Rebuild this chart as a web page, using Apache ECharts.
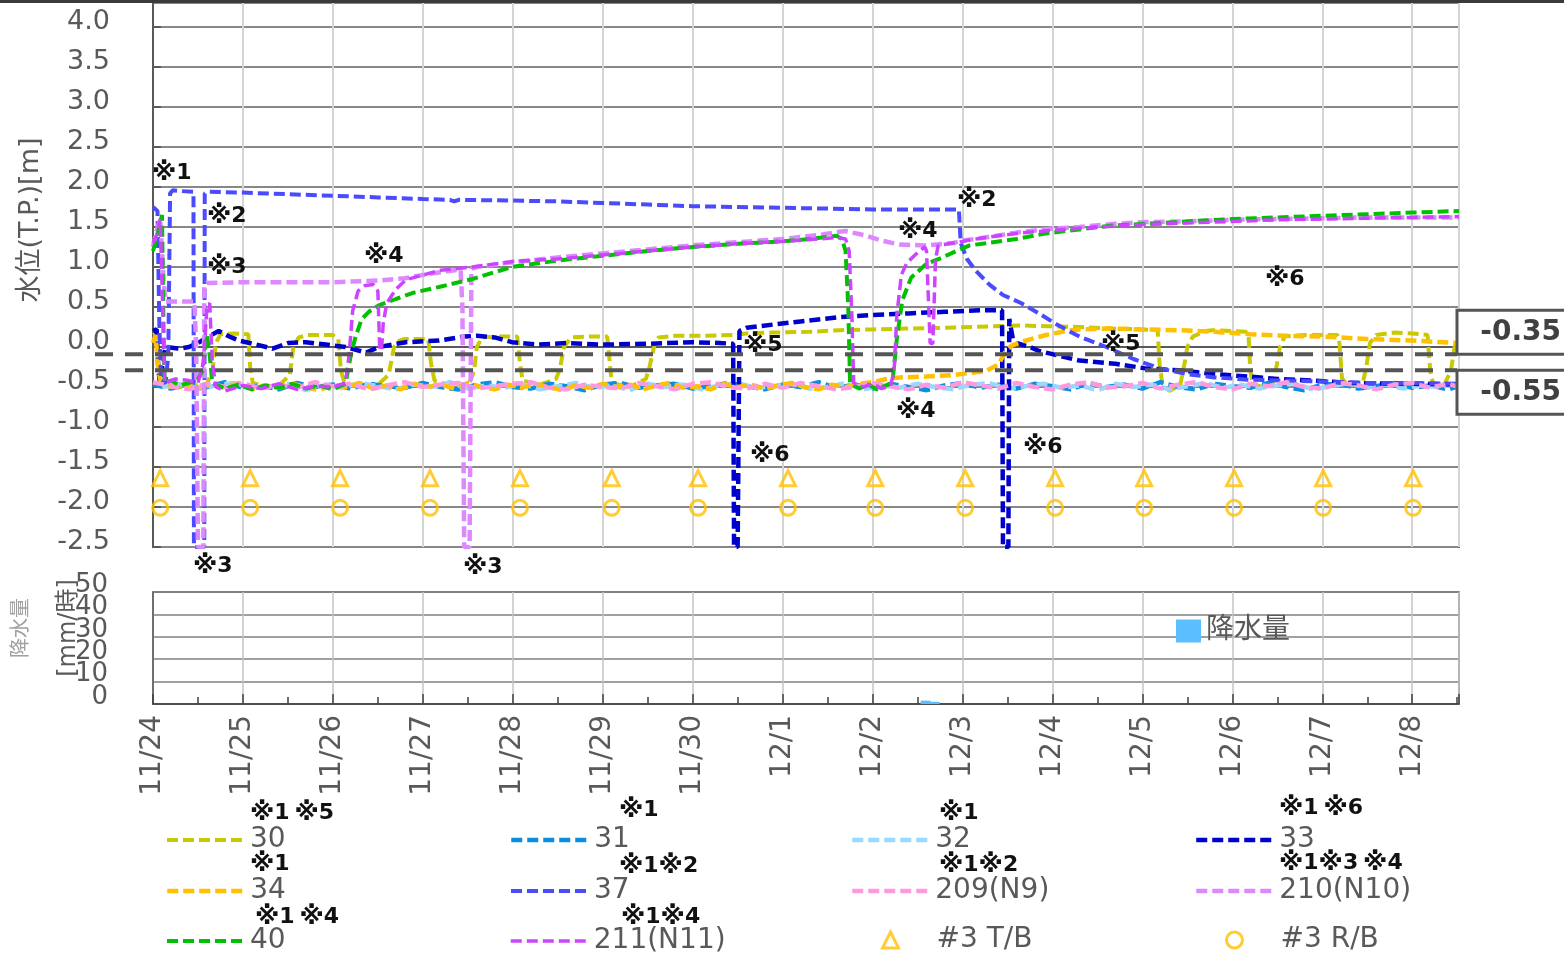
<!DOCTYPE html>
<html>
<head>
<meta charset="utf-8">
<script src="https://cdn.jsdelivr.net/npm/echarts@6/dist/echarts.min.js"></script>
<style>
html,body{margin:0;padding:0;background:#fff;}
#chart{width:1564px;height:954px;}
</style>
</head>
<body>
<div id="chart"></div>
<script>
// ---- time axis: days elapsed since 11/24 00:00 ----
const DAY_LABELS = ['11/24','11/25','11/26','11/27','11/28','11/29','11/30','12/1','12/2','12/3','12/4','12/5','12/6','12/7','12/8'];
const X_MAX = 14.52;

// ---- water level series, [day, level T.P. m] ----
const S30 = [[0,0.15],[0.04,0.17],[0.07,-0.42],[0.15,-0.47],[0.3,-0.5],[0.45,-0.48],[0.6,-0.46],[0.66,-0.3],[0.7,0.05],[0.75,0.16],[0.9,0.17],[1.06,0.16],[1.08,-0.25],[1.11,-0.45],[1.25,-0.5],[1.4,-0.48],[1.52,-0.35],[1.56,0.0],[1.62,0.12],[1.72,0.15],[2.0,0.15],[2.06,0.1],[2.09,-0.3],[2.13,-0.45],[2.3,-0.5],[2.5,-0.47],[2.62,-0.35],[2.68,0.0],[2.74,0.08],[2.8,0.1],[3.06,0.1],[3.09,-0.2],[3.13,-0.42],[3.3,-0.48],[3.5,-0.5],[3.57,-0.3],[3.6,0.0],[3.66,0.12],[3.8,0.13],[4.05,0.13],[4.08,-0.2],[4.11,-0.42],[4.3,-0.47],[4.48,-0.4],[4.52,-0.29],[4.57,0.0],[4.65,0.12],[4.8,0.13],[5.05,0.13],[5.07,-0.1],[5.1,-0.45],[5.3,-0.5],[5.48,-0.4],[5.52,-0.25],[5.57,0.0],[5.62,0.12],[5.8,0.14],[6.1,0.14],[6.45,0.15],[6.6,0.17],[6.89,0.18],[7.3,0.19],[7.63,0.21],[8.0,0.22],[8.37,0.23],[8.8,0.24],[9.11,0.25],[9.63,0.27],[9.93,0.26],[10.3,0.25],[10.67,0.23],[11.0,0.22],[11.17,0.21],[11.19,-0.2],[11.22,-0.45],[11.3,-0.55],[11.42,-0.48],[11.47,-0.2],[11.5,0.0],[11.56,0.13],[11.7,0.2],[11.78,0.21],[12.15,0.19],[12.18,0.15],[12.2,-0.3],[12.23,-0.47],[12.35,-0.5],[12.45,-0.45],[12.49,-0.25],[12.53,0.0],[12.58,0.13],[12.8,0.15],[13.17,0.15],[13.19,0.05],[13.22,-0.4],[13.3,-0.48],[13.45,-0.45],[13.49,-0.25],[13.53,0.05],[13.6,0.15],[13.8,0.18],[14.0,0.17],[14.17,0.15],[14.2,-0.3],[14.23,-0.45],[14.35,-0.48],[14.43,-0.3],[14.47,0.0],[14.52,0.08]];

const BAND_T_A = [0,0.2,0.4,0.6,0.8,1.0,1.2,1.4,1.6,1.8,
  2.0,2.2,2.4,2.6,2.8,3.0,3.2,3.4,3.6,3.8,
  4.0,4.2,4.4,4.6,4.8,5.0,5.2,5.4,5.6,5.8,
  6.0,6.2,6.4,6.6,6.8,7.0,7.2,7.4,7.6,7.8,
  8.0,8.2,8.4,8.6,8.8,9.0,9.2,9.4,9.6,9.8,
  10.0,10.2,10.4,10.6,10.8,11.0,11.2,11.4,11.6,11.8,
  12.0,12.2,12.4,12.6,12.8,13.0,13.2,13.4,13.6,13.8,
  14.0,14.2,14.4,14.52];
const BAND_T_B = [0.1,0.3,0.5,0.7,0.9,1.1,1.3,1.5,1.7,1.9,
  2.1,2.3,2.5,2.7,2.9,3.1,3.3,3.5,3.7,3.9,
  4.1,4.3,4.5,4.7,4.9,5.1,5.3,5.5,5.7,5.9,
  6.1,6.3,6.5,6.7,6.9,7.1,7.3,7.5,7.7,7.9,
  8.1,8.3,8.5,8.7,8.9,9.1,9.3,9.5,9.7,9.9,
  10.1,10.3,10.5,10.7,10.9,11.1,11.3,11.5,11.7,11.9,
  12.1,12.3,12.5,12.7,12.9,13.1,13.3,13.5,13.7,13.9,
  14.1,14.3,14.5];

const S31_V = [-0.47,-0.52,-0.46,-0.50,-0.44,-0.51,-0.48,-0.53,-0.45,-0.50,
  -0.47,-0.52,-0.46,-0.49,-0.51,-0.45,-0.50,-0.53,-0.47,-0.44,
  -0.50,-0.52,-0.46,-0.49,-0.54,-0.47,-0.45,-0.51,-0.48,-0.46,
  -0.52,-0.49,-0.45,-0.49,-0.53,-0.47,-0.50,-0.44,-0.51,-0.47,
  -0.52,-0.46,-0.50,-0.54,-0.48,-0.45,-0.51,-0.47,-0.52,-0.46,
  -0.49,-0.53,-0.45,-0.50,-0.47,-0.52,-0.44,-0.50,-0.53,-0.46,
  -0.49,-0.51,-0.45,-0.50,-0.54,-0.47,-0.46,-0.52,-0.49,-0.45,
  -0.51,-0.48,-0.53,-0.49];
const S32_V = [-0.50,-0.46,-0.53,-0.48,-0.45,-0.52,-0.49,-0.46,-0.54,-0.48,
  -0.51,-0.45,-0.49,-0.53,-0.47,-0.50,-0.44,-0.52,-0.48,-0.51,
  -0.46,-0.53,-0.49,-0.45,-0.51,-0.48,-0.54,-0.46,-0.50,-0.47,
  -0.53,-0.48,-0.45,-0.51,-0.49,-0.46,-0.52,-0.50,-0.45,-0.53,
  -0.48,-0.51,-0.46,-0.50,-0.53,-0.47,-0.45,-0.52,-0.49,-0.46,
  -0.51,-0.48,-0.54,-0.46,-0.50,-0.47,-0.53,-0.49,-0.45,-0.51,
  -0.47,-0.52,-0.48,-0.46,-0.53,-0.49,-0.45,-0.51,-0.47,-0.52,
  -0.48,-0.50,-0.46];
const S209_V = [-0.44,-0.49,-0.53,-0.46,-0.50,-0.45,-0.52,-0.47,-0.51,-0.44,
  -0.49,-0.46,-0.53,-0.48,-0.44,-0.50,-0.47,-0.45,-0.52,-0.49,
  -0.46,-0.44,-0.51,-0.53,-0.47,-0.50,-0.52,-0.45,-0.49,-0.53,
  -0.46,-0.44,-0.50,-0.52,-0.46,-0.51,-0.45,-0.49,-0.53,-0.50,
  -0.45,-0.49,-0.53,-0.47,-0.51,-0.44,-0.48,-0.52,-0.45,-0.50,
  -0.53,-0.47,-0.44,-0.51,-0.49,-0.45,-0.52,-0.47,-0.44,-0.50,
  -0.53,-0.46,-0.49,-0.44,-0.50,-0.52,-0.45,-0.48,-0.53,-0.47,
  -0.45,-0.51,-0.46,-0.50];

const S33 = [[0,0.2],[0.04,0.22],[0.06,-0.3],[0.08,-0.45],[0.12,-0.1],[0.14,0.0],[0.3,-0.02],[0.4,0.0],[0.5,0.05],[0.6,0.12],[0.73,0.2],[0.85,0.13],[0.96,0.08],[1.15,0.03],[1.33,-0.02],[1.5,0.05],[1.7,0.06],[1.92,0.03],[2.14,0.0],[2.37,-0.07],[2.51,0.0],[2.81,0.06],[3.18,0.08],[3.45,0.13],[3.6,0.14],[3.8,0.12],[3.99,0.06],[4.29,0.03],[4.6,0.05],[5.0,0.03],[5.5,0.04],[6.0,0.06],[6.3,0.05],[6.45,0.04],[6.46,-2.5],[6.5,-2.5],[6.52,0.2],[6.6,0.24],[6.89,0.28],[7.2,0.32],[7.6,0.37],[8.0,0.4],[8.4,0.42],[8.8,0.44],[9.2,0.46],[9.44,0.46],[9.45,-2.5],[9.51,-2.5],[9.52,0.35],[9.56,0.1],[9.6,0.05],[9.75,0.0],[9.85,-0.05],[10.3,-0.17],[10.7,-0.21],[11.05,-0.27],[11.4,-0.29],[11.8,-0.34],[12.2,-0.37],[12.5,-0.4],[12.9,-0.42],[13.3,-0.45],[14.0,-0.46],[14.52,-0.47]];

const S34 = [[0,0.05],[0.03,0.15],[0.06,-0.3],[0.09,-0.45],[0.2,-0.5],[0.35,-0.46],[0.5,-0.52],[0.65,-0.47],[0.8,-0.5],[0.95,-0.45],[1.1,-0.53],[1.25,-0.48],[1.4,-0.51],[1.55,-0.46],[1.7,-0.5],[1.85,-0.54],[2.0,-0.47],[2.15,-0.5],[2.3,-0.45],[2.45,-0.52],[2.6,-0.48],[2.75,-0.53],[2.9,-0.46],[3.05,-0.5],[3.2,-0.47],[3.35,-0.52],[3.5,-0.45],[3.65,-0.5],[3.8,-0.53],[3.95,-0.47],[4.1,-0.51],[4.25,-0.46],[4.4,-0.5],[4.55,-0.54],[4.7,-0.48],[4.85,-0.51],[5.0,-0.46],[5.15,-0.5],[5.3,-0.47],[5.45,-0.53],[5.6,-0.48],[5.75,-0.45],[5.9,-0.51],[6.05,-0.49],[6.2,-0.53],[6.35,-0.46],[6.5,-0.5],[6.65,-0.47],[6.8,-0.52],[6.95,-0.48],[7.1,-0.45],[7.25,-0.5],[7.4,-0.53],[7.55,-0.47],[7.7,-0.5],[7.85,-0.46],[8.0,-0.44],[8.15,-0.4],[8.3,-0.38],[8.6,-0.37],[8.9,-0.35],[9.26,-0.3],[9.4,-0.22],[9.48,-0.05],[9.55,0.02],[9.7,0.08],[9.93,0.15],[10.15,0.2],[10.3,0.22],[10.67,0.23],[11.0,0.22],[11.4,0.21],[11.8,0.19],[12.2,0.16],[12.6,0.14],[13.0,0.13],[13.5,0.1],[14.0,0.08],[14.52,0.05]];

const S37 = [[0,1.75],[0.05,1.7],[0.07,0.3],[0.09,-0.42],[0.14,-0.45],[0.17,-0.1],[0.19,1.92],[0.22,1.96],[0.3,1.95],[0.45,1.94],[0.455,-2.5],[0.57,-2.5],[0.575,1.92],[0.62,1.94],[1.0,1.93],[1.5,1.91],[2.0,1.89],[2.5,1.87],[3.0,1.85],[3.3,1.84],[3.35,1.82],[3.4,1.84],[4.0,1.83],[4.5,1.82],[5.0,1.8],[5.5,1.78],[6.0,1.76],[6.5,1.75],[7.0,1.74],[7.5,1.73],[8.0,1.72],[8.5,1.72],[8.96,1.72],[8.98,1.3],[9.05,1.1],[9.15,0.95],[9.3,0.78],[9.45,0.65],[9.65,0.55],[9.85,0.42],[10.05,0.28],[10.3,0.13],[10.6,0.0],[10.9,-0.15],[11.2,-0.27],[11.5,-0.34],[11.8,-0.38],[12.2,-0.41],[12.6,-0.42],[13.0,-0.43],[13.5,-0.45],[14.0,-0.45],[14.52,-0.46]];

const S210 = [[0,1.25],[0.04,1.45],[0.08,1.6],[0.1,1.62],[0.12,0.8],[0.14,0.57],[0.3,0.57],[0.46,0.57],[0.48,0.0],[0.5,-2.5],[0.56,-2.5],[0.57,0.77],[0.6,0.8],[1.0,0.81],[1.5,0.81],[2.0,0.81],[2.5,0.83],[2.8,0.86],[3.1,0.92],[3.42,0.97],[3.44,0.5],[3.46,-2.5],[3.52,-2.5],[3.54,0.98],[3.6,1.0],[4.0,1.06],[4.5,1.12],[5.0,1.17],[5.5,1.22],[6.0,1.27],[6.5,1.31],[7.0,1.35],[7.4,1.4],[7.63,1.44],[7.7,1.45],[7.9,1.4],[8.1,1.33],[8.3,1.28],[8.6,1.27],[8.9,1.3],[9.0,1.33],[9.2,1.36],[9.6,1.43],[10.0,1.48],[10.3,1.5],[10.7,1.54],[11.0,1.56],[11.5,1.57],[12.0,1.59],[12.5,1.6],[13.0,1.61],[13.5,1.62],[14.0,1.62],[14.52,1.62]];

const S40 = [[0,1.2],[0.04,1.35],[0.08,1.55],[0.1,1.65],[0.12,0.0],[0.13,-0.45],[0.2,-0.42],[0.3,-0.48],[0.4,-0.45],[0.5,-0.4],[0.55,-0.3],[0.6,0.15],[0.63,-0.1],[0.66,-0.45],[0.8,-0.52],[0.95,-0.47],[1.1,-0.53],[1.25,-0.48],[1.4,-0.51],[1.55,-0.46],[1.7,-0.52],[1.85,-0.48],[2.0,-0.53],[2.14,-0.46],[2.2,-0.1],[2.25,0.12],[2.32,0.35],[2.4,0.44],[2.51,0.52],[2.7,0.6],[2.9,0.68],[3.18,0.75],[3.55,0.85],[3.99,1.0],[4.5,1.08],[5.0,1.14],[5.5,1.2],[6.0,1.25],[6.5,1.29],[7.0,1.32],[7.3,1.35],[7.6,1.39],[7.66,1.35],[7.7,1.2],[7.73,0.5],[7.75,-0.45],[7.85,-0.52],[7.95,-0.47],[8.05,-0.53],[8.15,-0.48],[8.22,-0.45],[8.27,0.1],[8.33,0.58],[8.43,0.87],[8.6,1.04],[8.78,1.12],[8.93,1.2],[9.08,1.27],[9.6,1.35],[9.93,1.42],[10.3,1.47],[10.67,1.52],[11.04,1.54],[11.5,1.57],[12.0,1.6],[12.5,1.62],[13.0,1.64],[13.5,1.66],[14.0,1.68],[14.52,1.7]];

const S211 = [[0,1.3],[0.04,1.4],[0.08,1.6],[0.1,1.6],[0.12,0.0],[0.13,-0.45],[0.25,-0.4],[0.4,-0.42],[0.5,-0.45],[0.56,-0.2],[0.6,0.5],[0.63,0.55],[0.66,-0.2],[0.7,-0.5],[0.8,-0.55],[1.0,-0.48],[1.2,-0.52],[1.4,-0.46],[1.6,-0.53],[1.8,-0.49],[2.0,-0.5],[2.14,-0.45],[2.18,-0.1],[2.22,0.45],[2.28,0.7],[2.36,0.77],[2.45,0.78],[2.5,0.7],[2.52,0.0],[2.54,-0.05],[2.56,0.3],[2.6,0.55],[2.7,0.72],[2.81,0.84],[3.0,0.9],[3.2,0.96],[3.55,1.0],[4.0,1.07],[4.5,1.1],[5.0,1.15],[5.5,1.2],[6.0,1.25],[6.5,1.29],[7.0,1.32],[7.4,1.35],[7.6,1.37],[7.7,1.35],[7.74,1.2],[7.77,0.4],[7.79,-0.45],[7.9,-0.5],[8.0,-0.46],[8.1,-0.52],[8.2,-0.48],[8.24,-0.3],[8.27,0.4],[8.32,0.9],[8.38,1.05],[8.5,1.18],[8.58,1.25],[8.6,1.2],[8.64,0.05],[8.67,0.04],[8.7,1.1],[8.73,1.27],[9.0,1.32],[9.2,1.36],[9.6,1.42],[10.0,1.46],[10.5,1.5],[11.0,1.53],[11.5,1.55],[12.0,1.57],[12.5,1.59],[13.0,1.6],[13.5,1.61],[14.0,1.62],[14.52,1.63]];

// #3 turbine building / reactor building levels, once a day
const TB_T = [0.08,1.08,2.08,3.08,4.08,5.1,6.06,7.06,8.03,9.03,10.03,11.02,12.02,13.01,14.01];
const TB_V = [-1.64,-1.64,-1.64,-1.64,-1.64,-1.64,-1.64,-1.64,-1.64,-1.64,-1.64,-1.64,-1.64,-1.64,-1.64];
const RB_T = [0.08,1.08,2.08,3.08,4.08,5.1,6.06,7.06,8.03,9.03,10.03,11.02,12.02,13.01,14.01];
const RB_V = [-2.01,-2.01,-2.01,-2.01,-2.01,-2.01,-2.01,-2.01,-2.01,-2.01,-2.01,-2.01,-2.01,-2.01,-2.01];

// precipitation [day, mm/h] and its axis tick labels
const RAIN = [[8.59,1.5],[8.69,1.0]];
const RAIN_TICKS = [0, 10, 20, 30, 40, 50];

// reference levels drawn as dashed guides, and their box labels
const GUIDE_LEVELS = [-0.09, -0.29];
const GUIDE_LABELS = ['-0.35', '-0.55'];

const FONT = '"DejaVu Sans", "Noto Sans CJK JP", sans-serif';
const GRAY = '#595959';
const DASH = [11, 5];

function zip(ts, vs) {
  const n = Math.min(ts.length, vs.length);
  const out = [];
  for (let i = 0; i < n; i++) out.push([ts[i], vs[i]]);
  return out;
}

function lineSeries(name, data, color, width) {
  return {
    name: name, type: 'line', xAxisIndex: 0, yAxisIndex: 0, data: data,
    symbol: 'none', showSymbol: false, smooth: false,
    lineStyle: { color: color, width: width, type: DASH },
    itemStyle: { color: color },
    emphasis: { disabled: true }
  };
}

const SERIES_DEF = [
  { name: '30',       color: '#c9c900', width: 4,   data: S30 },
  { name: '31',       color: '#0a8ee0', width: 4.5, data: zip(BAND_T_A, S31_V) },
  { name: '32',       color: '#99d8ff', width: 4.5, data: zip(BAND_T_B, S32_V) },
  { name: '33',       color: '#0000cc', width: 4.5, data: S33 },
  { name: '34',       color: '#ffc000', width: 4.5, data: S34 },
  { name: '37',       color: '#4a4aff', width: 4,   data: S37 },
  { name: '209(N9)',  color: '#ff99dd', width: 4.5, data: zip(BAND_T_A, S209_V) },
  { name: '210(N10)', color: '#dd88ff', width: 4.5, data: S210 },
  { name: '40',       color: '#00c000', width: 4,   data: S40 },
  { name: '211(N11)', color: '#cc44ff', width: 3.5, data: S211 }
];
const WIDTH_OF = {};
SERIES_DEF.forEach(d => { WIDTH_OF[d.name] = d.width; });

const series = SERIES_DEF.map(d => lineSeries(d.name, d.data, d.color, d.width));
series.push({
  name: '#3 T/B', type: 'scatter', xAxisIndex: 0, yAxisIndex: 0,
  data: zip(TB_T, TB_V), symbol: 'triangle', symbolSize: 15,
  itemStyle: { color: 'rgba(0,0,0,0)', borderColor: '#ffc000', borderWidth: 3 },
  emphasis: { disabled: true }
});
series.push({
  name: '#3 R/B', type: 'scatter', xAxisIndex: 0, yAxisIndex: 0,
  data: zip(RB_T, RB_V), symbol: 'circle', symbolSize: 15,
  itemStyle: { color: 'rgba(0,0,0,0)', borderColor: '#ffc000', borderWidth: 3 },
  emphasis: { disabled: true }
});
series.push({
  name: '降水量', type: 'bar', xAxisIndex: 1, yAxisIndex: 1,
  data: RAIN, barWidth: 10, itemStyle: { color: '#5bbfff' },
  emphasis: { disabled: true }
});

// legend layout: one component per entry so each sits at its own slot
const LEGEND_COLS = [165, 509, 850, 1194];
const LEGEND_ROWS = [820, 871, 921];
const LEGEND_GRID = [
  ['30', '31', '32', '33'],
  ['34', '37', '209(N9)', '210(N10)'],
  ['40', '211(N11)', '#3 T/B', '#3 R/B']
];
const legends = [];
LEGEND_GRID.forEach((row, r) => {
  row.forEach((name, c) => {
    const isMark = name.startsWith('#3');
    const lg = {
      data: [name], orient: 'horizontal',
      left: isMark ? LEGEND_COLS[c] + 31 : LEGEND_COLS[c],
      top: LEGEND_ROWS[r],
      padding: 0, selectedMode: false,
      itemWidth: isMark ? 16 : 78, itemHeight: isMark ? 16 : 14,
      textStyle: {
        fontSize: 28, color: GRAY, fontFamily: FONT, lineHeight: 30,
        padding: isMark ? [0, 0, 8, 33] : [0, 0, 10, 0]
      }
    };
    if (isMark) {
      lg.itemStyle = { color: 'rgba(0,0,0,0)', borderColor: '#ffc000', borderWidth: 3 };
    } else {
      lg.itemStyle = { opacity: 0 };
      lg.lineStyle = { width: WIDTH_OF[name], type: DASH };
    }
    legends.push(lg);
  });
});
legends.push({
  data: ['降水量'], left: 1176, top: 617, padding: 0, selectedMode: false,
  itemWidth: 25, itemHeight: 23, icon: 'rect',
  textStyle: { fontSize: 28, color: GRAY, fontFamily: FONT }
});

const chart = echarts.init(document.getElementById('chart'), null, { renderer: 'canvas' });

const option = {
  animation: false,
  backgroundColor: '#ffffff',
  textStyle: { fontFamily: FONT },
  grid: [
    { left: 153, right: 105, top: 3, height: 544, show: true, borderColor: GRAY, borderWidth: 2, backgroundColor: 'rgba(0,0,0,0)', containLabel: false, outerBoundsMode: 'none' },
    { left: 153, right: 105, top: 592, height: 112, show: true, borderColor: GRAY, borderWidth: 1.5, backgroundColor: 'rgba(0,0,0,0)', containLabel: false, outerBoundsMode: 'none' }
  ],
  xAxis: [
    {
      gridIndex: 0, type: 'value', min: 0, max: X_MAX, interval: 1,
      axisLabel: { show: false }, axisTick: { show: false },
      axisLine: { show: true, lineStyle: { color: GRAY, width: 2 } },
      splitLine: { show: true, lineStyle: { color: '#d4d4d4', width: 2 } }
    },
    {
      gridIndex: 1, type: 'value', min: 0, max: X_MAX, interval: 1,
      axisLabel: {
        show: true, rotate: 90, fontSize: 28, color: GRAY, margin: 11, fontFamily: FONT,
        showMaxLabel: false, showMinLabel: true,
        formatter: v => (Math.abs(v - Math.round(v)) < 1e-6 && DAY_LABELS[Math.round(v)]) ? DAY_LABELS[Math.round(v)] : ''
      },
      axisTick: { show: true, inside: true, length: 10, lineStyle: { color: '#404040', width: 1.5 } },
      minorTick: { show: true, splitNumber: 2, length: 7, lineStyle: { color: '#404040', width: 1.5 } },
      axisLine: { show: true, lineStyle: { color: '#404040', width: 1.5 } },
      splitLine: { show: true, lineStyle: { color: '#c4c4c4', width: 1.5 } }
    }
  ],
  yAxis: [
    {
      gridIndex: 0, type: 'value', min: -2.5, max: 4.3, interval: 0.5,
      axisLabel: {
        show: true, fontSize: 27, color: GRAY, margin: 43, fontFamily: FONT,
        verticalAlign: 'bottom', lineHeight: 11, showMaxLabel: false, showMinLabel: true,
        formatter: v => (Math.abs(v * 2 - Math.round(v * 2)) < 1e-6) ? v.toFixed(1) : ''
      },
      axisTick: { show: true, inside: true, length: 8, lineStyle: { color: GRAY, width: 2 } },
      axisLine: { show: true, lineStyle: { color: GRAY, width: 2 } },
      splitLine: { show: true, lineStyle: { color: '#878787', width: 2 } }
    },
    {
      // tick labels of this axis overlap each other, so they are placed as text below
      gridIndex: 1, type: 'value', min: 0, max: 50, interval: 10,
      axisLabel: { show: false },
      axisTick: { show: false },
      axisLine: { show: true, lineStyle: { color: GRAY, width: 1.5 } },
      splitLine: { show: true, lineStyle: { color: '#808080', width: 1.5 } }
    }
  ],
  legend: legends,
  series: series
};

chart.setOption(option);

// ---- annotations and reference guides ----
const yA = chart.convertToPixel({ yAxisIndex: 0 }, GUIDE_LEVELS[0]);
const yB = chart.convertToPixel({ yAxisIndex: 0 }, GUIDE_LEVELS[1]);

// "※" marks drawn a little larger than the digits that follow them
function noteRich(text) {
  return text.split('').map(ch => ch === '※' ? '{m|※}' : (ch === ' ' ? '{s| }' : '{d|' + ch + '}')).join('');
}
function note(text, x, y) {
  return { type: 'text', x: x, y: y, z: 120,
    style: {
      text: noteRich(text), fill: '#111', align: 'left', verticalAlign: 'middle',
      textAlign: 'left', textVerticalAlign: 'middle',
      rich: {
        m: { font: 'bold 25px ' + FONT, fill: '#111', verticalAlign: 'middle' },
        d: { font: 'bold 22px ' + FONT, fill: '#111', verticalAlign: 'middle' },
        s: { font: 'bold 14px ' + FONT }
      }
    } };
}

const PLOT_NOTES = [
  ['※1', 152, 173], ['※2', 207, 216], ['※3', 207, 267], ['※4', 364, 256],
  ['※3', 193, 566], ['※3', 463, 567], ['※5', 743, 345], ['※6', 750, 455],
  ['※2', 957, 200], ['※4', 898, 231], ['※4', 896, 411], ['※6', 1023, 447],
  ['※5', 1101, 344], ['※6', 1265, 279]
];
const LEGEND_NOTES = [
  ['※1 ※5', 250, 813], ['※1', 619, 810], ['※1', 939, 813], ['※1 ※6', 1279, 808],
  ['※1', 250, 864], ['※1※2', 619, 866], ['※1※2', 939, 865], ['※1※3 ※4', 1279, 863],
  ['※1 ※4', 255, 917], ['※1※4', 621, 917]
];

const graphics = [];
graphics.push({ type: 'rect', shape: { x: 0, y: 0, width: 1564, height: 3 }, style: { fill: '#3a3a3a' }, z: 130 });
graphics.push({ type: 'line', z: 110, shape: { x1: 95, y1: yA, x2: 1457, y2: yA },
  style: { stroke: '#555555', lineWidth: 4, lineDash: [18, 12] } });
graphics.push({ type: 'line', z: 110, shape: { x1: 125, y1: yB, x2: 1457, y2: yB },
  style: { stroke: '#555555', lineWidth: 4, lineDash: [18, 12] } });
graphics.push({ type: 'rect', z: 115, shape: { x: 1457, y: yA - 44, width: 130, height: 44 },
  style: { fill: '#ffffff', stroke: '#555555', lineWidth: 3 } });
graphics.push({ type: 'rect', z: 115, shape: { x: 1457, y: yB, width: 130, height: 44 },
  style: { fill: '#ffffff', stroke: '#555555', lineWidth: 3 } });
graphics.push({ type: 'text', z: 120, x: 1561, y: yA - 21,
  style: { text: GUIDE_LABELS[0], font: 'bold 28px ' + FONT, fill: '#404040', align: 'right', verticalAlign: 'middle', textAlign: 'right', textVerticalAlign: 'middle' } });
graphics.push({ type: 'text', z: 120, x: 1561, y: yB + 23,
  style: { text: GUIDE_LABELS[1], font: 'bold 28px ' + FONT, fill: '#404040', align: 'right', verticalAlign: 'middle', textAlign: 'right', textVerticalAlign: 'middle' } });

PLOT_NOTES.concat(LEGEND_NOTES).forEach(n => graphics.push(note(n[0], n[1], n[2])));

// precipitation tick labels, positioned from the rain axis
RAIN_TICKS.forEach(v => {
  const py = chart.convertToPixel({ yAxisIndex: 1 }, v);
  graphics.push({ type: 'text', z: 120, x: 108, y: py - 7,
    style: { text: String(v), font: '26px ' + FONT, fill: GRAY, align: 'right', verticalAlign: 'middle', textAlign: 'right', textVerticalAlign: 'middle' } });
});

// axis titles
graphics.push({ type: 'text', z: 120, x: 31, y: 220, rotation: Math.PI / 2,
  style: { text: '水位(T.P.)[m]', font: '27px ' + FONT, fill: GRAY, align: 'center', verticalAlign: 'middle', textAlign: 'center', textVerticalAlign: 'middle' } });
graphics.push({ type: 'text', z: 120, x: 22, y: 628, rotation: Math.PI / 2,
  style: { text: '降水量', font: '20px ' + FONT, fill: '#a0a0a0', align: 'center', verticalAlign: 'middle', textAlign: 'center', textVerticalAlign: 'middle' } });
graphics.push({ type: 'text', z: 121, x: 69, y: 628, rotation: Math.PI / 2,
  style: { text: '[mm/時]', font: '24px ' + FONT, fill: GRAY, align: 'center', verticalAlign: 'middle', textAlign: 'center', textVerticalAlign: 'middle' } });

chart.setOption({ graphic: graphics });
</script>
</body>
</html>
